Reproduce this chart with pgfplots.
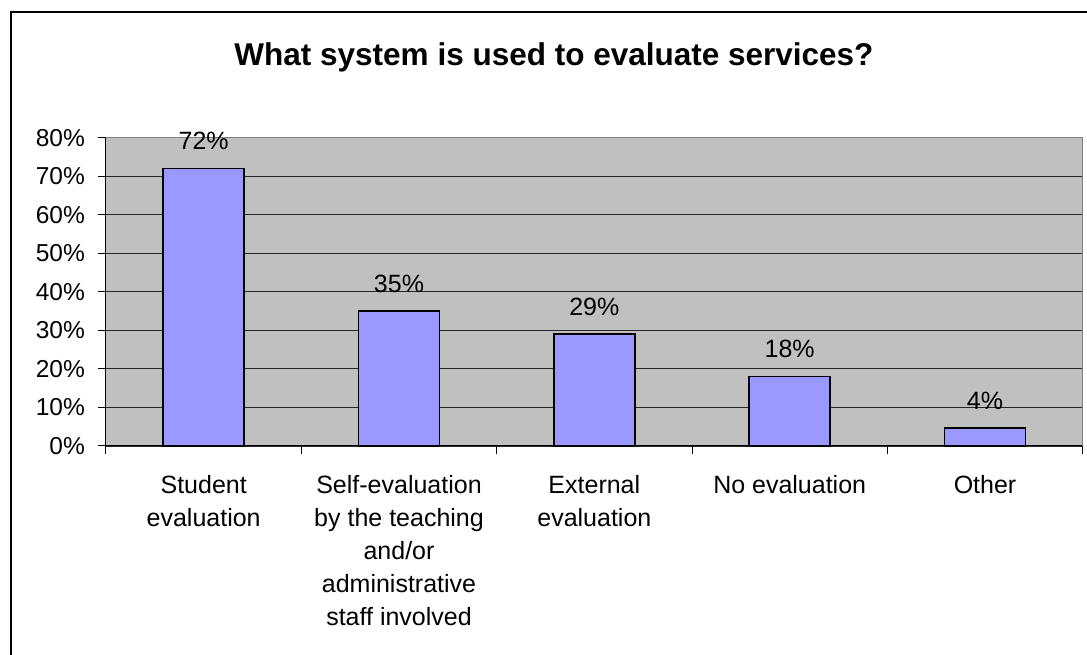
\documentclass[border=0pt]{standalone}
\usepackage{fontspec}
\setmainfont{Liberation Sans}
\usepackage{pgfplots}
\pgfplotsset{compat=1.18}
\definecolor{barblue}{HTML}{9999FF}
\definecolor{plotgray}{HTML}{C0C0C0}
\definecolor{bordergray}{HTML}{808080}
\pgfplotstableread{
x y lab
0 72 72
1 35 35
2 29 29
3 18 18
4 4.6 4
}\evaldata
\begin{document}
\begin{tikzpicture}[x=1pt,y=1pt]
\useasboundingbox (0,0) rectangle (1087,655);
\draw[line width=2pt] (11,-20) -- (11,643) -- (1110,643);
\node[anchor=base, font=\fontsize{31.5}{36}\selectfont\bfseries] at (554,589) {What system is used to evaluate services?};
\begin{axis}[
  at={(106pt,209pt)}, anchor=south west,
  width=976.7pt, height=308.4pt, scale only axis,
  xmin=-0.5, xmax=4.5, ymin=0, ymax=80,
  axis background/.style={fill=plotgray},
  axis x line*=bottom, axis y line*=left,
  axis line style={black, line width=1pt},
  tick align=outside,
  major tick length=8pt,
  tick style={black, line width=1pt},
  ytick={0,10,20,30,40,50,60,70,80},
  yticklabels={0\%,10\%,20\%,30\%,40\%,50\%,60\%,70\%,80\%},
  yticklabel style={font=\fontsize{24.5}{28}\selectfont, inner sep=0pt, anchor=east, xshift=-13pt},
  ymajorgrids,
  major grid style={black!85, line width=0.9pt},
  xtick={0,1,2,3,4},
  xticklabels={Student\\evaluation, Self-evaluation\\by the teaching\\and/or\\administrative\\staff involved, External\\evaluation, No evaluation, Other},
  xtick style={draw=none},
  xticklabel style={font=\fontsize{25}{33}\selectfont, align=center, anchor=north, inner sep=0pt, yshift=-21pt},
  extra x ticks={-0.5,0.5,1.5,2.5,3.5,4.5},
  extra x tick labels={},
  extra x tick style={grid=none, xtick style={draw=black, line width=1pt}, major tick length=8pt},
  /pgf/number format/assume math mode=true,
  clip=false,
]
\addplot[ybar, bar width=81pt, fill=barblue, draw=black, line width=1.6pt,
  point meta=explicit,
  nodes near coords={\pgfmathprintnumber{\pgfplotspointmeta}\%},
  nodes near coords style={font=\fontsize{25}{30}\selectfont, anchor=base, inner sep=0pt, yshift=19pt, black}]
  table[x=x, y=y, meta=lab] {\evaldata};
\draw[bordergray, line width=1pt] (rel axis cs:0,1) -- (rel axis cs:1,1) -- (rel axis cs:1,0);
\end{axis}
\end{tikzpicture}
\end{document}
